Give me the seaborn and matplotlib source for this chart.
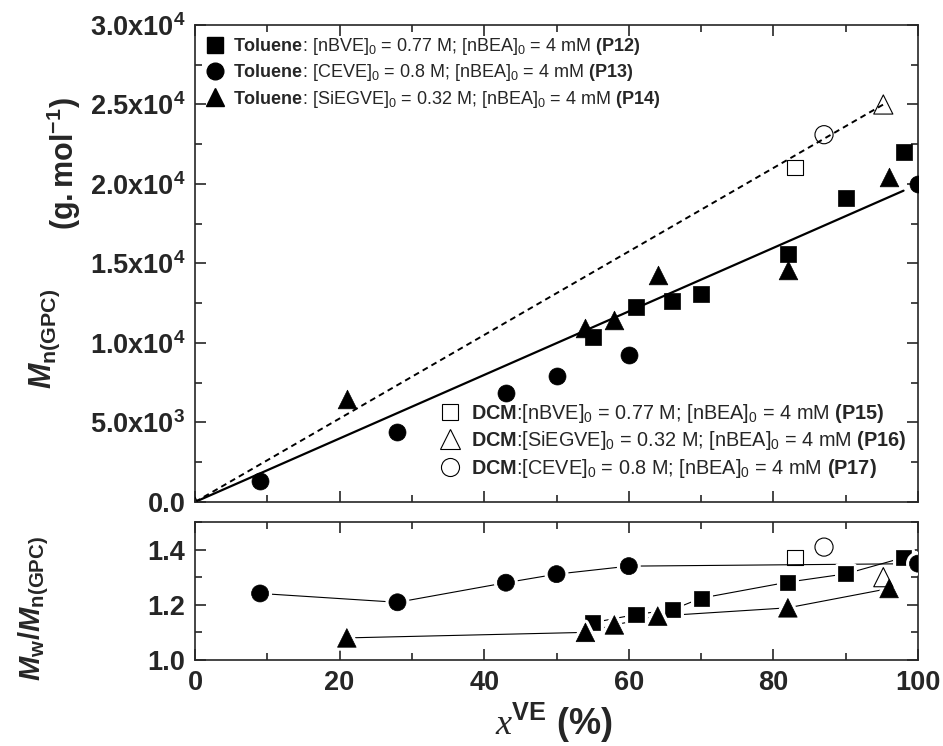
import matplotlib
matplotlib.use("Agg")
import matplotlib.pyplot as plt
import matplotlib.patheffects as pe
from matplotlib.lines import Line2D
from matplotlib.ticker import MultipleLocator
import seaborn as sns
import pandas as pd

# ---------------- data ----------------
# Toluene series (filled markers)
p12_x = [55, 61, 66, 70, 82, 90, 98]
p12_mn = [10400, 12250, 12630, 13070, 15600, 19120, 22020]
p12_disp = [1.135, 1.165, 1.182, 1.224, 1.282, 1.312, 1.371]

p13_x = [9, 28, 43, 50, 60, 100]
p13_mn = [1300, 4400, 6850, 7950, 9250, 20000]
p13_disp = [1.241, 1.209, 1.280, 1.311, 1.340, 1.349]

p14_x = [21, 54, 58, 64, 82, 96]
p14_mn = [6450, 10950, 11470, 14270, 14590, 20450]
p14_disp = [1.08, 1.10, 1.127, 1.159, 1.189, 1.259]

# DCM series (open markers)
p15_x = [83]
p15_mn = [21030]
p15_disp = [1.371]
p16_x = [95.2]
p16_mn = [25000]
p16_disp = [1.30]
p17_x = [87]
p17_mn = [23100]
p17_disp = [1.409]
p16_origin_x = [0]
p16_origin_mn = [0]

# theoretical / trend lines
tol_line_x = [0, 98]
tol_line_mn = [0, 19580]
dcm_line_x = [0, 95.2]
dcm_line_mn = [0, 25000]

# axes ticks
mn_ticks = [0, 5000, 10000, 15000, 20000, 25000, 30000]
mn_tick_labels = ["0.0", r"$\mathbf{5.0x10^{3}}$", r"$\mathbf{1.0x10^{4}}$",
                  r"$\mathbf{1.5x10^{4}}$", r"$\mathbf{2.0x10^{4}}$",
                  r"$\mathbf{2.5x10^{4}}$", r"$\mathbf{3.0x10^{4}}$"]
disp_ticks = [1.0, 1.2, 1.4]
disp_tick_labels = ["1.0", "1.2", "1.4"]
x_ticks = [0, 20, 40, 60, 80, 100]
x_tick_labels = ["0", "20", "40", "60", "80", "100"]

labels_tol = [
    r"$\mathbf{Toluene}$: [nBVE]$_0$ = 0.77 M; [nBEA]$_0$ = 4 mM $\mathbf{(P12)}$",
    r"$\mathbf{Toluene}$: [CEVE]$_0$ = 0.8 M; [nBEA]$_0$ = 4 mM $\mathbf{(P13)}$",
    r"$\mathbf{Toluene}$: [SiEGVE]$_0$ = 0.32 M; [nBEA]$_0$ = 4 mM $\mathbf{(P14)}$",
]
labels_dcm = [
    r"$\mathbf{DCM}$:[nBVE]$_0$ = 0.77 M; [nBEA]$_0$ = 4 mM $\mathbf{(P15)}$",
    r"$\mathbf{DCM}$:[SiEGVE]$_0$ = 0.32 M; [nBEA]$_0$ = 4 mM $\mathbf{(P16)}$",
    r"$\mathbf{DCM}$:[CEVE]$_0$ = 0.8 M; [nBEA]$_0$ = 4 mM $\mathbf{(P17)}$",
]

# ---------------- style ----------------
sns.set_style("ticks")
plt.rcParams["font.family"] = ["Liberation Sans", "DejaVu Sans"]
plt.rcParams["mathtext.fontset"] = "custom"
plt.rcParams["mathtext.rm"] = "Liberation Sans"
plt.rcParams["mathtext.it"] = "Liberation Sans:italic"
plt.rcParams["mathtext.bf"] = "Liberation Sans:bold"
plt.rcParams["mathtext.bfit"] = "Liberation Sans:italic:bold"
plt.rcParams["mathtext.sf"] = "Liberation Serif:italic"
plt.rcParams["axes.linewidth"] = 1.2

fig = plt.figure(figsize=(9.43, 7.46), dpi=100)
ax1 = fig.add_axes([0.2068, 0.3271, 0.7667, 0.6394])
ax2 = fig.add_axes([0.2068, 0.1153, 0.7667, 0.1850])

filled = dict(color="black", edgecolor="black", linewidth=0.5)
sizes = {"s": 120, "o": 150, "^": 180}

# ---------------- top panel ----------------
sns.lineplot(x=tol_line_x, y=tol_line_mn, ax=ax1, color="black", lw=1.6,
             sort=False, estimator=None)
sns.lineplot(x=dcm_line_x, y=dcm_line_mn, ax=ax1, color="black", lw=1.4,
             sort=False, estimator=None, linestyle=(0, (3, 2.2)))

for xs, ys, m in [(p12_x, p12_mn, "s"), (p13_x, p13_mn, "o"), (p14_x, p14_mn, "^")]:
    sns.scatterplot(x=xs, y=ys, ax=ax1, marker=m, s=sizes[m], zorder=3, **filled)

for xs, ys, m, s in [(p15_x, p15_mn, "s", 120), (p16_x, p16_mn, "^", 190),
                     (p17_x, p17_mn, "o", 170), (p16_origin_x, p16_origin_mn, "^", 50)]:
    sns.scatterplot(x=xs, y=ys, ax=ax1, marker=m, s=s, facecolor="none",
                    edgecolor="black", linewidth=0.8, zorder=3)

ax1.set_xlim(0, 100)
ax1.set_ylim(0, 30000)
ax1.set_yticks(mn_ticks)
ax1.set_yticklabels(mn_tick_labels)
ax1.set_xticks(x_ticks)
ax1.xaxis.set_minor_locator(MultipleLocator(10))
ax1.yaxis.set_minor_locator(MultipleLocator(2500))
ax1.tick_params(labelbottom=False)
ax1.set_xlabel("")
ax1.set_ylabel("")

h_tol = [Line2D([], [], ls="", marker="s", ms=11, color="black"),
         Line2D([], [], ls="", marker="o", ms=12, color="black"),
         Line2D([], [], ls="", marker="^", ms=13.5, color="black")]
leg1 = ax1.legend(h_tol, labels_tol, loc="upper left", bbox_to_anchor=(0.015, 0.977),
                  frameon=False, fontsize=13, handlelength=1.0, handletextpad=0.5,
                  labelspacing=0.3, borderpad=0, borderaxespad=0)
ax1.add_artist(leg1)
h_dcm = [Line2D([], [], ls="", marker="s", ms=11, mfc="none", mec="black", mew=0.8),
         Line2D([], [], ls="", marker="^", ms=14, mfc="none", mec="black", mew=0.8),
         Line2D([], [], ls="", marker="o", ms=13, mfc="none", mec="black", mew=0.8)]
ax1.legend(h_dcm, labels_dcm, loc="upper left", bbox_to_anchor=(0.339, 0.210),
           frameon=False, fontsize=14.3, handlelength=1.0, handletextpad=0.55,
           labelspacing=0.22, borderpad=0, borderaxespad=0)

# ---------------- bottom panel ----------------
halo = [pe.Stroke(linewidth=5, foreground="white"), pe.Normal()]
for xs, ys in [(p13_x, p13_disp), (p12_x, p12_disp), (p14_x, p14_disp)]:
    sns.lineplot(x=xs, y=ys, ax=ax2, color="black", lw=0.8, sort=False, estimator=None)

for xs, ys, m in [(p12_x, p12_disp, "s"), (p13_x, p13_disp, "o"), (p14_x, p14_disp, "^")]:
    sns.scatterplot(x=xs, y=ys, ax=ax2, marker=m, s=sizes[m], zorder=3, **filled)
for coll in ax2.collections:
    coll.set_path_effects(halo)

for xs, ys, m, s in [(p15_x, p15_disp, "s", 120), (p16_x, p16_disp, "^", 190),
                     (p17_x, p17_disp, "o", 170)]:
    sns.scatterplot(x=xs, y=ys, ax=ax2, marker=m, s=s, facecolor="none",
                    edgecolor="black", linewidth=0.8, zorder=3)

ax2.set_xlim(0, 100)
ax2.set_ylim(1.0, 1.5)
ax2.set_yticks(disp_ticks)
ax2.set_yticklabels(disp_tick_labels)
ax2.set_xticks(x_ticks)
ax2.set_xticklabels(x_tick_labels)
ax2.xaxis.set_minor_locator(MultipleLocator(10))
ax2.yaxis.set_minor_locator(MultipleLocator(0.1))
ax2.set_ylabel("")
ax2.set_xlabel("")

for ax in (ax1, ax2):
    ax.tick_params(which="both", direction="in", top=True, right=True, width=1.2)
    ax.tick_params(which="major", length=8, labelsize=19.5, pad=7)
    ax.tick_params(which="minor", length=5)
    for lab in ax.get_xticklabels() + ax.get_yticklabels():
        lab.set_fontweight("bold")
    for sp in ax.spines.values():
        sp.set_linewidth(1.2)
        sp.set_visible(True)

# axis titles
fig.text(0.048, 0.545, r"$\mathbfit{M}_{\mathbf{n(GPC)}}$",
         rotation=90, ha="center", va="center", fontsize=22)
fig.text(0.068, 0.780, r"$\mathbf{(g.mol^{-1})}$",
         rotation=90, ha="center", va="center", fontsize=22)
fig.text(0.036, 0.184, r"$\mathbfit{M}_{\mathbf{w}}\mathbf{/}\mathbfit{M}_{\mathbf{n(GPC)}}$",
         rotation=90, ha="center", va="center", fontsize=21)
fig.text(0.588, 0.002, r"$\mathsf{x}^{\mathbf{VE}}$ $\mathbf{(\%)}$",
         ha="center", va="bottom", fontsize=26)

fig.savefig("out.png", dpi=100)
